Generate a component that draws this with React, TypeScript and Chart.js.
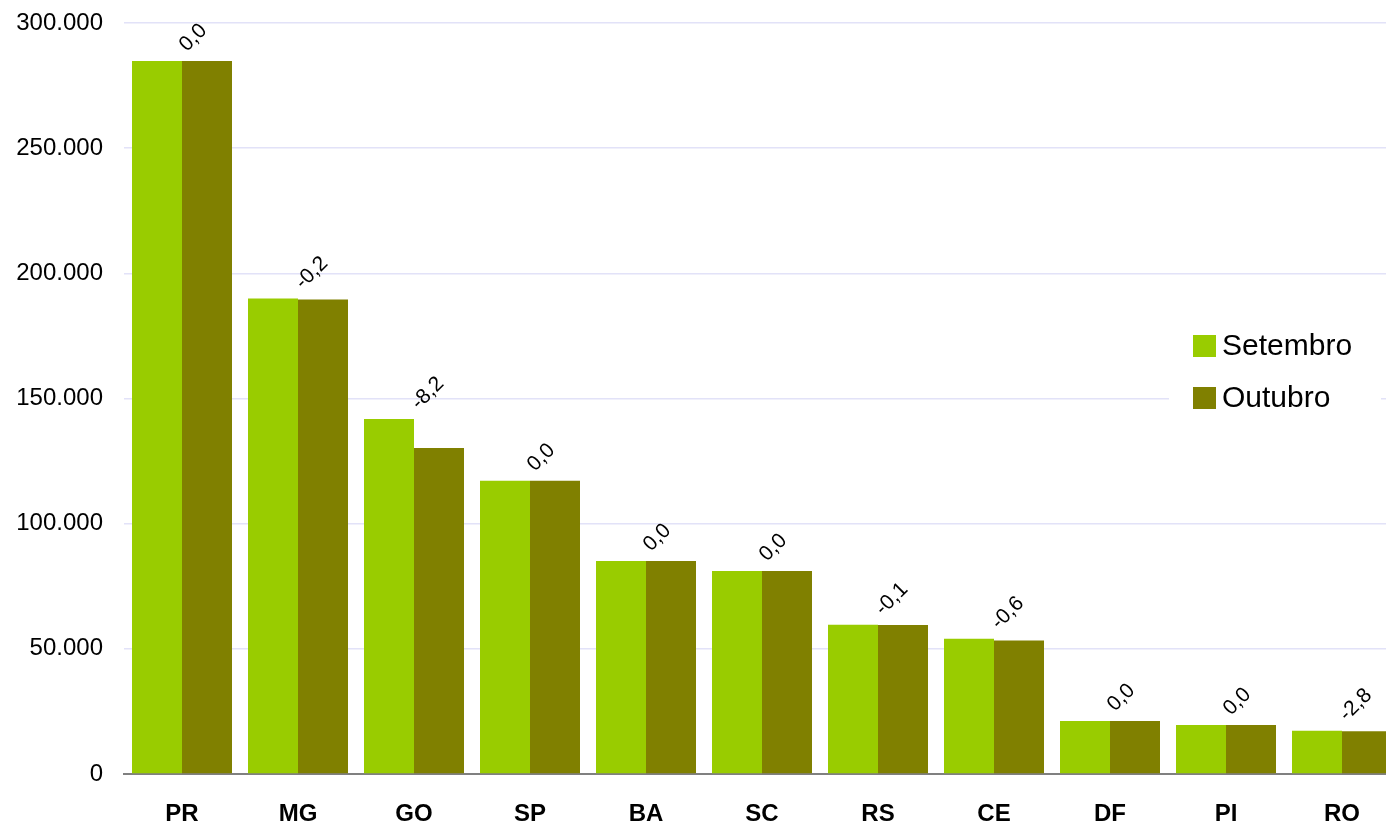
import React, { useEffect, useRef } from "react";
import { Chart, registerables } from "chart.js";

Chart.register(...registerables);

const categories = ["PR", "MG", "GO", "SP", "BA", "SC", "RS", "CE", "DF", "PI", "RO"];
const setembro = [284800, 189900, 141800, 117100, 85100, 81100, 59600, 54000, 21200, 19600, 17300];
const outubro = [284800, 189500, 130200, 117100, 85100, 81100, 59500, 53300, 21200, 19600, 17100];
const variacao = ["0,0", "-0,2", "-8,2", "0,0", "0,0", "0,0", "-0,1", "-0,6", "0,0", "0,0", "-2,8"];
const seriesNames = ["Setembro", "Outubro"];
const seriesColors = ["#99CC00", "#808000"];

const FONT = "'Liberation Sans', Arial, sans-serif";

const fmt = (v: number) => {
  const s = Math.round(v).toString();
  return s.replace(/\B(?=(\d{3})+(?!\d))/g, ".");
};

const labelPlugin = {
  id: "varLabels",
  afterDatasetsDraw(chart: any) {
    const ctx = chart.ctx;
    const m0 = chart.getDatasetMeta(0).data;
    const m1 = chart.getDatasetMeta(1).data;
    ctx.save();
    ctx.fillStyle = "#000";
    ctx.font = `21px ${FONT}`;
    ctx.textAlign = "left";
    ctx.textBaseline = "middle";
    for (let i = 0; i < categories.length; i++) {
      const b0 = m0[i];
      const b1 = m1[i];
      if (!b0 || !b1) continue;
      const cx = (b0.x + b1.x) / 2;
      const top = Math.min(b0.y, b1.y);
      ctx.save();
      ctx.translate(cx + 1, top - 13);
      ctx.rotate(-Math.PI / 4);
      ctx.fillText(variacao[i], 0, 0);
      ctx.restore();
    }
    ctx.restore();
  },
};

const legendPlugin = {
  id: "customLegend",
  afterDraw(chart: any) {
    const ctx = chart.ctx;
    ctx.save();
    ctx.fillStyle = "#ffffff";
    ctx.fillRect(1169, 322, 212, 100);
    ctx.font = `30px ${FONT}`;
    ctx.textAlign = "left";
    ctx.textBaseline = "middle";
    const ys = [346, 398];
    for (let i = 0; i < seriesNames.length; i++) {
      ctx.fillStyle = seriesColors[i];
      ctx.fillRect(1193, ys[i] - 11, 23, 22);
      ctx.fillStyle = "#000";
      ctx.fillText(seriesNames[i], 1222, ys[i] + 1);
    }
    ctx.restore();
  },
};

export default function App() {
  const ref = useRef<HTMLCanvasElement | null>(null);

  useEffect(() => {
    if (!ref.current) return;
    const chart = new Chart(ref.current, {
      type: "bar",
      data: {
        labels: categories,
        datasets: [
          {
            label: seriesNames[0],
            data: setembro,
            backgroundColor: seriesColors[0],
            borderWidth: 0,
          },
          {
            label: seriesNames[1],
            data: outubro,
            backgroundColor: seriesColors[1],
            borderWidth: 0,
          },
        ],
      },
      options: {
        responsive: false,
        animation: false,
        devicePixelRatio: 1,
        layout: { padding: { top: 23, right: 0, left: 0, bottom: 0 } },
        datasets: {
          bar: { categoryPercentage: 100 / 116, barPercentage: 1 },
        },
        plugins: {
          legend: { display: false },
          tooltip: { enabled: false },
        },
        scales: {
          x: {
            grid: { display: false, drawTicks: false },
            border: { display: true, color: "#808080", width: 2 },
            ticks: {
              color: "#000",
              font: { family: FONT, size: 24, weight: "bold" },
              padding: 26,
              maxRotation: 0,
            },
            afterFit: (s: any) => {
              s.height = 52;
              s.paddingLeft = 0;
              s.paddingRight = 0;
            },
          },
          y: {
            min: 0,
            max: 300000,
            grid: { color: "#E2E2F8", lineWidth: 1.6, drawTicks: false },
            border: { display: false },
            ticks: {
              stepSize: 50000,
              color: "#000",
              font: { family: FONT, size: 24 },
              padding: 21,
              callback: (v: any) => fmt(Number(v)),
            },
            afterFit: (s: any) => {
              s.width = 124;
              s.paddingTop = 0;
              s.paddingBottom = 0;
            },
          },
        },
      },
      plugins: [labelPlugin, legendPlugin],
    });
    return () => chart.destroy();
  }, []);

  return (
    <div
      style={{
        position: "absolute",
        left: 0,
        top: 0,
        width: 1386,
        height: 826,
        overflow: "hidden",
        background: "#fff",
      }}
    >
      <canvas ref={ref} width={1400} height={826} style={{ display: "block" }} />
    </div>
  );
}
